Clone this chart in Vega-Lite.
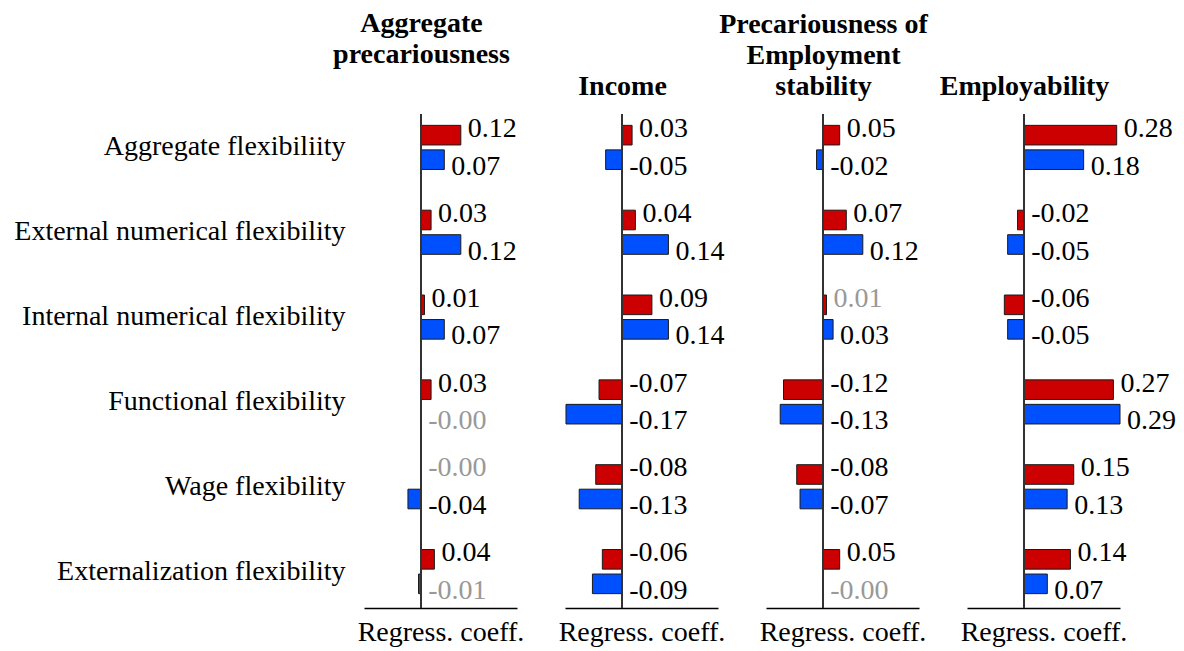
{
  "$schema": "https://vega.github.io/schema/vega-lite/v6.json",
  "padding": {"left": 13, "top": 10, "right": 0, "bottom": 20},
  "background": "white",
  "bounds": "flush",
  "spacing": 48,
  "config": {
    "font": "Liberation Serif",
    "view": {"stroke": null},
    "title": {"fontSize": 28, "fontWeight": "bold", "lineHeight": 31, "baseline": "bottom", "color": "black", "anchor": "middle", "frame": "group"},
    "axis": {"labelColor": "black", "titleColor": "black"},
    "text": {"fontSize": 28, "align": "left", "baseline": "middle", "dx": 7}
  },
  "data": {"values": [
    {"p": "AP", "f": "Aggregate flexibiliity", "s": "r", "v": 0.12, "lab": "0.12", "sig": 1},
    {"p": "AP", "f": "Aggregate flexibiliity", "s": "b", "v": 0.07, "lab": "0.07", "sig": 1},
    {"p": "AP", "f": "External numerical flexibility", "s": "r", "v": 0.03, "lab": "0.03", "sig": 1},
    {"p": "AP", "f": "External numerical flexibility", "s": "b", "v": 0.12, "lab": "0.12", "sig": 1},
    {"p": "AP", "f": "Internal numerical flexibility", "s": "r", "v": 0.01, "lab": "0.01", "sig": 1},
    {"p": "AP", "f": "Internal numerical flexibility", "s": "b", "v": 0.07, "lab": "0.07", "sig": 1},
    {"p": "AP", "f": "Functional flexibility", "s": "r", "v": 0.03, "lab": "0.03", "sig": 1},
    {"p": "AP", "f": "Functional flexibility", "s": "b", "v": -0.002, "lab": "-0.00", "sig": 0},
    {"p": "AP", "f": "Wage flexibility", "s": "r", "v": -0.002, "lab": "-0.00", "sig": 0},
    {"p": "AP", "f": "Wage flexibility", "s": "b", "v": -0.04, "lab": "-0.04", "sig": 1},
    {"p": "AP", "f": "Externalization flexibility", "s": "r", "v": 0.04, "lab": "0.04", "sig": 1},
    {"p": "AP", "f": "Externalization flexibility", "s": "b", "v": -0.008, "lab": "-0.01", "sig": 0},

    {"p": "IN", "f": "Aggregate flexibiliity", "s": "r", "v": 0.03, "lab": "0.03", "sig": 1},
    {"p": "IN", "f": "Aggregate flexibiliity", "s": "b", "v": -0.05, "lab": "-0.05", "sig": 1},
    {"p": "IN", "f": "External numerical flexibility", "s": "r", "v": 0.04, "lab": "0.04", "sig": 1},
    {"p": "IN", "f": "External numerical flexibility", "s": "b", "v": 0.14, "lab": "0.14", "sig": 1},
    {"p": "IN", "f": "Internal numerical flexibility", "s": "r", "v": 0.09, "lab": "0.09", "sig": 1},
    {"p": "IN", "f": "Internal numerical flexibility", "s": "b", "v": 0.14, "lab": "0.14", "sig": 1},
    {"p": "IN", "f": "Functional flexibility", "s": "r", "v": -0.07, "lab": "-0.07", "sig": 1},
    {"p": "IN", "f": "Functional flexibility", "s": "b", "v": -0.17, "lab": "-0.17", "sig": 1},
    {"p": "IN", "f": "Wage flexibility", "s": "r", "v": -0.08, "lab": "-0.08", "sig": 1},
    {"p": "IN", "f": "Wage flexibility", "s": "b", "v": -0.13, "lab": "-0.13", "sig": 1},
    {"p": "IN", "f": "Externalization flexibility", "s": "r", "v": -0.06, "lab": "-0.06", "sig": 1},
    {"p": "IN", "f": "Externalization flexibility", "s": "b", "v": -0.09, "lab": "-0.09", "sig": 1},

    {"p": "ES", "f": "Aggregate flexibiliity", "s": "r", "v": 0.05, "lab": "0.05", "sig": 1},
    {"p": "ES", "f": "Aggregate flexibiliity", "s": "b", "v": -0.02, "lab": "-0.02", "sig": 1},
    {"p": "ES", "f": "External numerical flexibility", "s": "r", "v": 0.07, "lab": "0.07", "sig": 1},
    {"p": "ES", "f": "External numerical flexibility", "s": "b", "v": 0.12, "lab": "0.12", "sig": 1},
    {"p": "ES", "f": "Internal numerical flexibility", "s": "r", "v": 0.01, "lab": "0.01", "sig": 0},
    {"p": "ES", "f": "Internal numerical flexibility", "s": "b", "v": 0.03, "lab": "0.03", "sig": 1},
    {"p": "ES", "f": "Functional flexibility", "s": "r", "v": -0.12, "lab": "-0.12", "sig": 1},
    {"p": "ES", "f": "Functional flexibility", "s": "b", "v": -0.13, "lab": "-0.13", "sig": 1},
    {"p": "ES", "f": "Wage flexibility", "s": "r", "v": -0.08, "lab": "-0.08", "sig": 1},
    {"p": "ES", "f": "Wage flexibility", "s": "b", "v": -0.07, "lab": "-0.07", "sig": 1},
    {"p": "ES", "f": "Externalization flexibility", "s": "r", "v": 0.05, "lab": "0.05", "sig": 1},
    {"p": "ES", "f": "Externalization flexibility", "s": "b", "v": -0.002, "lab": "-0.00", "sig": 0},

    {"p": "EM", "f": "Aggregate flexibiliity", "s": "r", "v": 0.28, "lab": "0.28", "sig": 1},
    {"p": "EM", "f": "Aggregate flexibiliity", "s": "b", "v": 0.18, "lab": "0.18", "sig": 1},
    {"p": "EM", "f": "External numerical flexibility", "s": "r", "v": -0.02, "lab": "-0.02", "sig": 1},
    {"p": "EM", "f": "External numerical flexibility", "s": "b", "v": -0.05, "lab": "-0.05", "sig": 1},
    {"p": "EM", "f": "Internal numerical flexibility", "s": "r", "v": -0.06, "lab": "-0.06", "sig": 1},
    {"p": "EM", "f": "Internal numerical flexibility", "s": "b", "v": -0.05, "lab": "-0.05", "sig": 1},
    {"p": "EM", "f": "Functional flexibility", "s": "r", "v": 0.27, "lab": "0.27", "sig": 1},
    {"p": "EM", "f": "Functional flexibility", "s": "b", "v": 0.29, "lab": "0.29", "sig": 1},
    {"p": "EM", "f": "Wage flexibility", "s": "r", "v": 0.15, "lab": "0.15", "sig": 1},
    {"p": "EM", "f": "Wage flexibility", "s": "b", "v": 0.13, "lab": "0.13", "sig": 1},
    {"p": "EM", "f": "Externalization flexibility", "s": "r", "v": 0.14, "lab": "0.14", "sig": 1},
    {"p": "EM", "f": "Externalization flexibility", "s": "b", "v": 0.07, "lab": "0.07", "sig": 1}
  ]},
  "hconcat": [
    {
      "width": 153, "height": 494,
      "title": {"text": ["Aggregate", "precariousness"], "dx": -19, "offset": 44},
      "transform": [{"filter": "datum.p === 'AP'"}],
      "layer": [
        {
          "encoding": {
            "y": {"field": "f", "type": "nominal", "sort": ["Aggregate flexibiliity", "External numerical flexibility", "Internal numerical flexibility", "Functional flexibility", "Wage flexibility", "Externalization flexibility"],
                  "scale": {"range": [-9, 500], "paddingInner": 0, "paddingOuter": 0},
                  "axis": {"title": null, "domain": false, "ticks": false, "labelFontSize": 28, "labelPadding": 19, "labelLimit": 600}},
            "yOffset": {"field": "s", "type": "nominal", "sort": ["r", "b"], "scale": {"paddingInner": 0.2, "paddingOuter": 0.83}}
          },
          "layer": [
            {"mark": {"type": "bar", "stroke": "#1a1a1a", "strokeWidth": 1},
             "encoding": {
               "x": {"field": "v", "type": "quantitative", "scale": {"domain": [-0.173, 0.29], "nice": false, "zero": false},
                     "axis": {"title": "Regress. coeff.", "domainColor": "black", "domainWidth": 1.5, "ticks": false, "labels": false, "grid": false, "titleFontSize": 28, "titleFontWeight": "normal", "titlePadding": 10}},
               "color": {"field": "s", "type": "nominal", "scale": {"domain": ["r", "b"], "range": ["#CC0000", "#0050FF"]}, "legend": null}}},
            {"transform": [{"filter": "datum.v >= 0 && datum.s === 'r'"}], "mark": {"type": "text", "dy": -6},
             "encoding": {"x": {"field": "v", "type": "quantitative"}, "text": {"field": "lab"}, "color": {"condition": {"test": "datum.sig === 0", "value": "#999999"}, "value": "black"}}},
            {"transform": [{"filter": "datum.v >= 0 && datum.s === 'b'"}], "mark": {"type": "text", "dy": 7},
             "encoding": {"x": {"field": "v", "type": "quantitative"}, "text": {"field": "lab"}, "color": {"condition": {"test": "datum.sig === 0", "value": "#999999"}, "value": "black"}}},
            {"transform": [{"filter": "datum.v < 0 && datum.s === 'r'"}], "mark": {"type": "text", "dy": -6},
             "encoding": {"x": {"datum": 0}, "text": {"field": "lab"}, "color": {"condition": {"test": "datum.sig === 0", "value": "#999999"}, "value": "black"}}},
            {"transform": [{"filter": "datum.v < 0 && datum.s === 'b'"}], "mark": {"type": "text", "dy": 7},
             "encoding": {"x": {"datum": 0}, "text": {"field": "lab"}, "color": {"condition": {"test": "datum.sig === 0", "value": "#999999"}, "value": "black"}}}
          ]
        },
        {"mark": {"type": "rule", "color": "#333", "strokeWidth": 1.5}, "encoding": {"x": {"datum": 0}}}
      ]
    },
    {
      "width": 153, "height": 494,
      "title": {"text": "Income", "dx": -19, "offset": 12},
      "transform": [{"filter": "datum.p === 'IN'"}],
      "layer": [
        {
          "encoding": {
            "y": {"field": "f", "type": "nominal", "sort": ["Aggregate flexibiliity", "External numerical flexibility", "Internal numerical flexibility", "Functional flexibility", "Wage flexibility", "Externalization flexibility"],
                  "scale": {"range": [-9, 500], "paddingInner": 0, "paddingOuter": 0}, "axis": null},
            "yOffset": {"field": "s", "type": "nominal", "sort": ["r", "b"], "scale": {"paddingInner": 0.2, "paddingOuter": 0.83}}
          },
          "layer": [
            {"mark": {"type": "bar", "stroke": "#1a1a1a", "strokeWidth": 1},
             "encoding": {
               "x": {"field": "v", "type": "quantitative", "scale": {"domain": [-0.173, 0.29], "nice": false, "zero": false},
                     "axis": {"title": "Regress. coeff.", "domainColor": "black", "domainWidth": 1.5, "ticks": false, "labels": false, "grid": false, "titleFontSize": 28, "titleFontWeight": "normal", "titlePadding": 10}},
               "color": {"field": "s", "type": "nominal", "scale": {"domain": ["r", "b"], "range": ["#CC0000", "#0050FF"]}, "legend": null}}},
            {"transform": [{"filter": "datum.v >= 0 && datum.s === 'r'"}], "mark": {"type": "text", "dy": -6},
             "encoding": {"x": {"field": "v", "type": "quantitative"}, "text": {"field": "lab"}, "color": {"condition": {"test": "datum.sig === 0", "value": "#999999"}, "value": "black"}}},
            {"transform": [{"filter": "datum.v >= 0 && datum.s === 'b'"}], "mark": {"type": "text", "dy": 7},
             "encoding": {"x": {"field": "v", "type": "quantitative"}, "text": {"field": "lab"}, "color": {"condition": {"test": "datum.sig === 0", "value": "#999999"}, "value": "black"}}},
            {"transform": [{"filter": "datum.v < 0 && datum.s === 'r'"}], "mark": {"type": "text", "dy": -6},
             "encoding": {"x": {"datum": 0}, "text": {"field": "lab"}, "color": {"condition": {"test": "datum.sig === 0", "value": "#999999"}, "value": "black"}}},
            {"transform": [{"filter": "datum.v < 0 && datum.s === 'b'"}], "mark": {"type": "text", "dy": 7},
             "encoding": {"x": {"datum": 0}, "text": {"field": "lab"}, "color": {"condition": {"test": "datum.sig === 0", "value": "#999999"}, "value": "black"}}}
          ]
        },
        {"mark": {"type": "rule", "color": "#333", "strokeWidth": 1.5}, "encoding": {"x": {"datum": 0}}}
      ]
    },
    {
      "width": 153, "height": 494,
      "title": {"text": ["Precariousness of", "Employment", "stability"], "dx": -19, "offset": 12},
      "transform": [{"filter": "datum.p === 'ES'"}],
      "layer": [
        {
          "encoding": {
            "y": {"field": "f", "type": "nominal", "sort": ["Aggregate flexibiliity", "External numerical flexibility", "Internal numerical flexibility", "Functional flexibility", "Wage flexibility", "Externalization flexibility"],
                  "scale": {"range": [-9, 500], "paddingInner": 0, "paddingOuter": 0}, "axis": null},
            "yOffset": {"field": "s", "type": "nominal", "sort": ["r", "b"], "scale": {"paddingInner": 0.2, "paddingOuter": 0.83}}
          },
          "layer": [
            {"mark": {"type": "bar", "stroke": "#1a1a1a", "strokeWidth": 1},
             "encoding": {
               "x": {"field": "v", "type": "quantitative", "scale": {"domain": [-0.173, 0.29], "nice": false, "zero": false},
                     "axis": {"title": "Regress. coeff.", "domainColor": "black", "domainWidth": 1.5, "ticks": false, "labels": false, "grid": false, "titleFontSize": 28, "titleFontWeight": "normal", "titlePadding": 10}},
               "color": {"field": "s", "type": "nominal", "scale": {"domain": ["r", "b"], "range": ["#CC0000", "#0050FF"]}, "legend": null}}},
            {"transform": [{"filter": "datum.v >= 0 && datum.s === 'r'"}], "mark": {"type": "text", "dy": -6},
             "encoding": {"x": {"field": "v", "type": "quantitative"}, "text": {"field": "lab"}, "color": {"condition": {"test": "datum.sig === 0", "value": "#999999"}, "value": "black"}}},
            {"transform": [{"filter": "datum.v >= 0 && datum.s === 'b'"}], "mark": {"type": "text", "dy": 7},
             "encoding": {"x": {"field": "v", "type": "quantitative"}, "text": {"field": "lab"}, "color": {"condition": {"test": "datum.sig === 0", "value": "#999999"}, "value": "black"}}},
            {"transform": [{"filter": "datum.v < 0 && datum.s === 'r'"}], "mark": {"type": "text", "dy": -6},
             "encoding": {"x": {"datum": 0}, "text": {"field": "lab"}, "color": {"condition": {"test": "datum.sig === 0", "value": "#999999"}, "value": "black"}}},
            {"transform": [{"filter": "datum.v < 0 && datum.s === 'b'"}], "mark": {"type": "text", "dy": 7},
             "encoding": {"x": {"datum": 0}, "text": {"field": "lab"}, "color": {"condition": {"test": "datum.sig === 0", "value": "#999999"}, "value": "black"}}}
          ]
        },
        {"mark": {"type": "rule", "color": "#333", "strokeWidth": 1.5}, "encoding": {"x": {"datum": 0}}}
      ]
    },
    {
      "width": 153, "height": 494,
      "title": {"text": "Employability", "dx": -19, "offset": 12},
      "transform": [{"filter": "datum.p === 'EM'"}],
      "layer": [
        {
          "encoding": {
            "y": {"field": "f", "type": "nominal", "sort": ["Aggregate flexibiliity", "External numerical flexibility", "Internal numerical flexibility", "Functional flexibility", "Wage flexibility", "Externalization flexibility"],
                  "scale": {"range": [-9, 500], "paddingInner": 0, "paddingOuter": 0}, "axis": null},
            "yOffset": {"field": "s", "type": "nominal", "sort": ["r", "b"], "scale": {"paddingInner": 0.2, "paddingOuter": 0.83}}
          },
          "layer": [
            {"mark": {"type": "bar", "stroke": "#1a1a1a", "strokeWidth": 1},
             "encoding": {
               "x": {"field": "v", "type": "quantitative", "scale": {"domain": [-0.173, 0.29], "nice": false, "zero": false},
                     "axis": {"title": "Regress. coeff.", "domainColor": "black", "domainWidth": 1.5, "ticks": false, "labels": false, "grid": false, "titleFontSize": 28, "titleFontWeight": "normal", "titlePadding": 10}},
               "color": {"field": "s", "type": "nominal", "scale": {"domain": ["r", "b"], "range": ["#CC0000", "#0050FF"]}, "legend": null}}},
            {"transform": [{"filter": "datum.v >= 0 && datum.s === 'r'"}], "mark": {"type": "text", "dy": -6},
             "encoding": {"x": {"field": "v", "type": "quantitative"}, "text": {"field": "lab"}, "color": {"condition": {"test": "datum.sig === 0", "value": "#999999"}, "value": "black"}}},
            {"transform": [{"filter": "datum.v >= 0 && datum.s === 'b'"}], "mark": {"type": "text", "dy": 7},
             "encoding": {"x": {"field": "v", "type": "quantitative"}, "text": {"field": "lab"}, "color": {"condition": {"test": "datum.sig === 0", "value": "#999999"}, "value": "black"}}},
            {"transform": [{"filter": "datum.v < 0 && datum.s === 'r'"}], "mark": {"type": "text", "dy": -6},
             "encoding": {"x": {"datum": 0}, "text": {"field": "lab"}, "color": {"condition": {"test": "datum.sig === 0", "value": "#999999"}, "value": "black"}}},
            {"transform": [{"filter": "datum.v < 0 && datum.s === 'b'"}], "mark": {"type": "text", "dy": 7},
             "encoding": {"x": {"datum": 0}, "text": {"field": "lab"}, "color": {"condition": {"test": "datum.sig === 0", "value": "#999999"}, "value": "black"}}}
          ]
        },
        {"mark": {"type": "rule", "color": "#333", "strokeWidth": 1.5}, "encoding": {"x": {"datum": 0}}}
      ]
    }
  ]
}
